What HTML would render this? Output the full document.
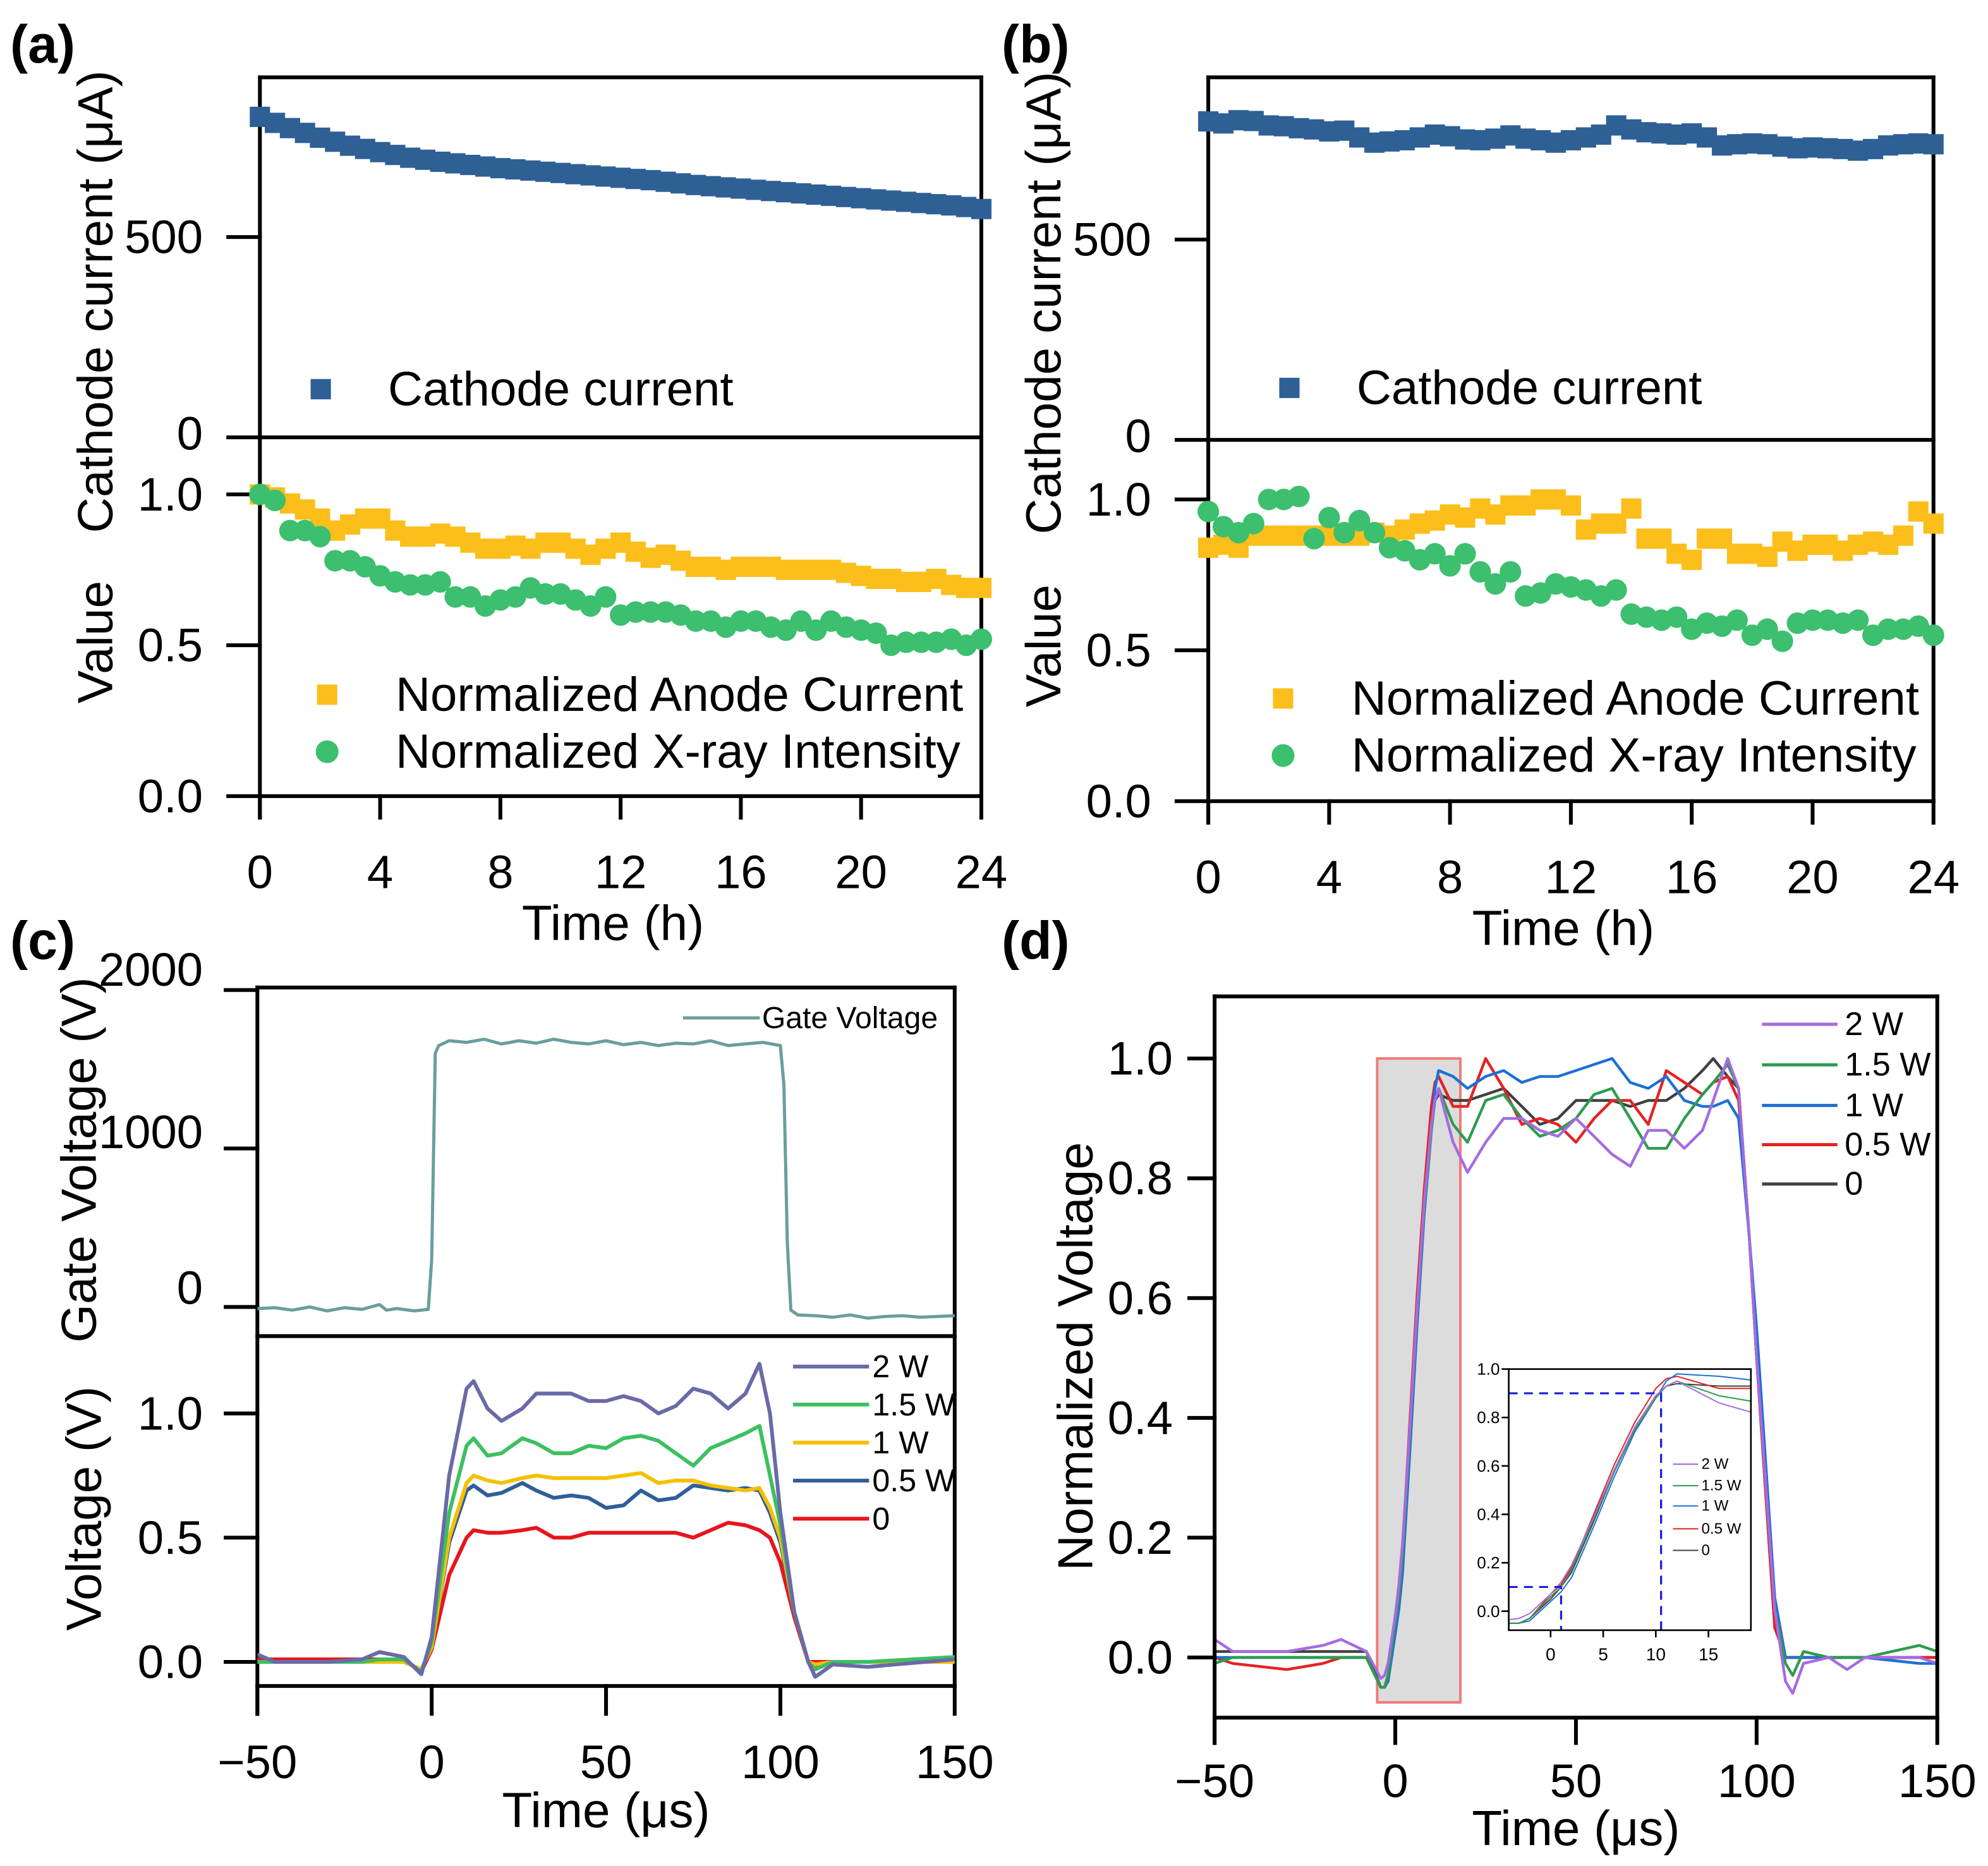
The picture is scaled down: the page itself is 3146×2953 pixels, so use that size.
<!DOCTYPE html>
<html><head><meta charset="utf-8"><style>
html,body{margin:0;padding:0;background:#fff;}
svg{display:block;font-family:"Liberation Sans",Arial,sans-serif;}
</style></head><body>
<svg id="fig" xmlns="http://www.w3.org/2000/svg" width="3146" height="2953" viewBox="0 0 1568 1472" preserveAspectRatio="none"></svg>
<script>
// ---------- Panel (a) data ----------
const aStepH = 0.5;
const aCathode = [800,785,772,760,748,738,728,720,712,705,698,693,688,684,680,676,672,669,666,663,660,657,654,651,648,645,642,638,634,630,627,624,621,618,615,612,609,606,603,600,597,594,591,588,585,582,579,575,570];
const aAnode = [1.0,0.99,0.97,0.95,0.92,0.88,0.9,0.92,0.92,0.88,0.86,0.86,0.87,0.86,0.84,0.82,0.82,0.83,0.82,0.84,0.84,0.82,0.80,0.82,0.84,0.81,0.79,0.80,0.78,0.76,0.76,0.75,0.76,0.76,0.76,0.75,0.75,0.75,0.75,0.74,0.73,0.72,0.72,0.71,0.71,0.72,0.70,0.69,0.69];
const aXray = [1.0,0.98,0.88,0.88,0.86,0.78,0.78,0.76,0.73,0.71,0.70,0.70,0.71,0.66,0.66,0.63,0.65,0.66,0.69,0.67,0.67,0.65,0.63,0.66,0.60,0.61,0.61,0.61,0.60,0.58,0.58,0.56,0.58,0.58,0.56,0.55,0.58,0.55,0.58,0.56,0.55,0.54,0.50,0.51,0.51,0.51,0.52,0.50,0.52];
// ---------- Panel (b) data ----------
const bStepH = 0.5;
const bCathode = [795,790,798,796,785,783,778,775,770,772,755,742,745,748,755,762,758,750,748,752,760,752,748,742,748,755,762,785,775,768,765,762,765,755,735,738,740,738,732,728,730,728,726,722,726,735,738,740,738];
const bAnode = [0.84,0.85,0.84,0.88,0.88,0.88,0.88,0.88,0.88,0.88,0.88,0.89,0.88,0.9,0.92,0.93,0.95,0.94,0.97,0.95,0.98,0.98,1.0,1.0,0.98,0.9,0.92,0.92,0.97,0.87,0.87,0.82,0.8,0.87,0.87,0.82,0.82,0.81,0.86,0.83,0.85,0.85,0.83,0.85,0.86,0.85,0.88,0.96,0.92];
const bXray = [0.96,0.91,0.89,0.92,1.0,1.0,1.01,0.87,0.94,0.89,0.93,0.89,0.84,0.83,0.80,0.82,0.78,0.82,0.76,0.72,0.76,0.68,0.69,0.72,0.71,0.70,0.68,0.70,0.62,0.61,0.60,0.61,0.57,0.59,0.58,0.60,0.55,0.57,0.53,0.59,0.60,0.60,0.59,0.60,0.55,0.57,0.57,0.58,0.55];
const hTicks = [0,4,8,12,16,20,24];
// ---------- Panel (c) data ----------
const gateT = [-50,-45,-40,-35,-30,-25,-20,-15,-13,-10,-5,-1,0,1,2,5,10,15,20,25,30,35,40,45,50,55,60,65,70,75,80,85,90,95,100,101,102,103,105,110,115,120,125,130,135,140,145,150];
const gateV = [-10,-5,-20,0,-25,-5,-15,15,-20,-10,-25,-15,300,1600,1650,1680,1670,1690,1660,1680,1665,1690,1670,1660,1680,1655,1670,1650,1665,1660,1680,1650,1660,1670,1650,1400,400,-20,-50,-55,-65,-50,-70,-60,-55,-65,-60,-55];
const cT = [-50,-45,-30,-20,-15,-8,-3,0,5,10,12,16,20,26,30,35,40,45,50,55,60,65,70,75,80,85,90,94,97,100,104,108,110,115,125,150];
const c2W  = [0.03,0.0,0.0,0.01,0.04,0.02,-0.05,0.10,0.75,1.10,1.13,1.02,0.97,1.02,1.08,1.08,1.08,1.05,1.05,1.07,1.05,1.0,1.03,1.1,1.08,1.02,1.08,1.2,1.0,0.6,0.2,0.0,-0.06,-0.01,-0.02,0.01];
const c15W = [0.0,0.0,0.0,0.0,0.01,0.01,-0.04,0.08,0.6,0.87,0.9,0.83,0.84,0.9,0.88,0.84,0.84,0.87,0.86,0.9,0.91,0.89,0.84,0.79,0.86,0.89,0.92,0.95,0.75,0.55,0.2,0.0,-0.03,0.0,0.0,0.02];
const c1W  = [0.0,0.0,0.0,0.0,0.0,0.0,-0.03,0.06,0.5,0.72,0.75,0.73,0.72,0.74,0.75,0.74,0.74,0.74,0.74,0.75,0.76,0.72,0.73,0.73,0.71,0.7,0.69,0.7,0.62,0.5,0.2,0.0,-0.01,0.0,0.0,0.0];
const c05W = [0.0,0.0,0.0,0.0,0.0,0.0,-0.03,0.06,0.48,0.69,0.71,0.67,0.68,0.72,0.69,0.66,0.67,0.66,0.62,0.63,0.69,0.65,0.66,0.71,0.70,0.69,0.70,0.69,0.6,0.48,0.2,0.0,-0.02,0.0,0.0,0.0];
const c0W  = [0.01,0.01,0.01,0.01,0.01,0.01,-0.04,0.05,0.35,0.50,0.53,0.52,0.52,0.53,0.54,0.50,0.50,0.52,0.52,0.52,0.52,0.52,0.52,0.50,0.53,0.56,0.55,0.53,0.5,0.4,0.18,0.0,0.0,0.0,0.0,0.0];
const cLabels = ['2 W','1.5 W','1 W','0.5 W','0'];
// ---------- Panel (d) data ----------
const dT = [-50,-45,-30,-20,-15,-8,-4,-3,-2,0,1,2,4,6,8,10,11,12,16,20,25,30,35,40,45,50,55,60,65,70,75,80,85,88,92,95,98,100,105,108,110,113,120,125,130,145,150];
const d2W  = [0.03,0.01,0.01,0.02,0.03,0.01,-0.035,-0.03,-0.01,0.07,0.12,0.19,0.38,0.58,0.76,0.89,0.93,0.95,0.86,0.81,0.86,0.9,0.9,0.88,0.87,0.9,0.87,0.84,0.82,0.88,0.88,0.85,0.88,0.93,1.0,0.95,0.7,0.5,0.08,-0.04,-0.06,-0.01,0.0,-0.02,0.0,0.0,-0.01];
const d15W = [-0.01,0.0,0.0,0.0,0.0,0.0,-0.05,-0.05,-0.03,0.06,0.1,0.17,0.37,0.57,0.75,0.88,0.93,0.95,0.89,0.86,0.93,0.94,0.9,0.87,0.88,0.9,0.94,0.95,0.9,0.85,0.85,0.9,0.94,0.96,0.99,0.95,0.7,0.5,0.08,-0.01,-0.03,0.01,0.0,0.0,0.0,0.02,0.01];
const d1W  = [0.0,0.0,0.0,0.0,0.0,0.0,-0.05,-0.05,-0.04,0.04,0.08,0.14,0.34,0.55,0.74,0.88,0.95,0.98,0.97,0.95,0.97,0.98,0.96,0.97,0.97,0.98,0.99,1.0,0.96,0.95,0.97,0.93,0.92,0.92,0.93,0.9,0.7,0.55,0.1,0.0,0.0,0.0,0.0,0.0,0.0,-0.01,-0.01];
const d05W = [0.0,-0.01,-0.02,-0.01,0.0,0.0,-0.05,-0.05,-0.03,0.07,0.11,0.18,0.39,0.6,0.78,0.92,0.96,0.97,0.92,0.92,1.0,0.95,0.89,0.9,0.89,0.86,0.9,0.93,0.93,0.89,0.98,0.96,0.94,0.96,0.97,0.93,0.7,0.5,0.05,0.0,0.0,0.0,0.0,0.0,0.0,0.0,0.0];
const d0W  = [0.01,0.01,0.01,0.01,0.01,0.01,-0.05,-0.05,-0.03,0.05,0.1,0.16,0.36,0.57,0.76,0.89,0.93,0.94,0.93,0.93,0.94,0.95,0.92,0.89,0.9,0.93,0.93,0.93,0.92,0.93,0.93,0.95,0.98,1.0,0.97,0.95,0.7,0.5,0.05,0.0,0.0,0.0,0.0,0.0,0.0,0.0,0.0];
const dLabels = ['2 W','1.5 W','1 W','0.5 W','0'];
const usTicks = [-50,0,50,100,150];
const insetXTicks = [0,5,10,15];
const insetYTicks = [0.0,0.2,0.4,0.6,0.8,1.0];

const NS = 'http://www.w3.org/2000/svg';
const svg = document.getElementById('fig');
function mk(tag, a, p){ const e=document.createElementNS(NS,tag); for(const k in a) e.setAttribute(k,a[k]); (p||svg).appendChild(e); return e; }
function txt(s, x, y, size, anchor, p, rot){
  const t = mk('text', {x:x, y:y, 'font-size':size, 'text-anchor':anchor||'middle', 'dominant-baseline':'central', fill:'#000'}, p);
  if(rot) t.setAttribute('transform','rotate(-90 '+x+' '+y+')');
  t.textContent = s; return t;
}
function line(x1,y1,x2,y2,p,w,c){ return mk('line',{x1:x1,y1:y1,x2:x2,y2:y2,stroke:c||'#000','stroke-width':w||3,'stroke-linecap':'square'},p); }

const TK = 37, TT = 39, LG = 38;

// Panel labels
const plA = txt('(a)', 8, 35, 42, 'start'); plA.setAttribute('font-weight','bold');


const plB = txt('(b)', 790, 35, 42, 'start'); plB.setAttribute('font-weight','bold');


const plC = txt('(c)', 8, 742, 42, 'start'); plC.setAttribute('font-weight','bold');


const plD = txt('(d)', 790, 742, 42, 'start'); plD.setAttribute('font-weight','bold');



// ---------- scatter panels (a) and (b) ----------
function scatterPanel(id, L, R, T, D, B, tick500, tick1, cath, anode, xray, step, leg){
  const g = mk('g', {});
  
  
  const xs = t => L + t*(R-L)/24;
  const yc = v => D - v*(D-tick500)/500;
  const yv = v => B - v*(B-tick1);
  line(L,T,R,T,g); line(R,T,R,B,g); line(L,T,L,B+17,g); line(L-25,D,R,D,g); line(L-25,B,R,B,g);
  line(L-25,yc(500),L,yc(500),g); line(L-25,yv(1),L,yv(1),g); line(L-25,yv(0.5),L,yv(0.5),g);
  txt('500', L-45, yc(500), TK, 'end', g); txt('0', L-45, D-3, TK, 'end', g);
  txt('1.0', L-45, yv(1), TK, 'end', g); txt('0.5', L-45, yv(0.5), TK, 'end', g); txt('0.0', L-45, yv(0), TK, 'end', g);
  hTicks.forEach(h => { line(xs(h),B,xs(h),B+17,g); txt(String(h), xs(h), B+60, TK, 'middle', g); });
  const xt = txt('Time (h)', (L+R)/2-6, B+100, TT, 'middle', g);
  
  
  const yt1 = txt('Cathode current (μA)', L-130, (T+D+70)/2, TT, 'middle', g, true);
  
  
  const yt2 = txt('Value', L-130, (D+B)/2+20, TT, 'middle', g, true);
  
  
  cath.forEach((v,i) => { const r = mk('rect',{x:xs(i*step)-8,y:yc(v)-8,width:16,height:16,fill:'#2e6096'},g);
    
     });
  anode.forEach((v,i) => { const r = mk('rect',{x:xs(i*step)-8,y:yv(v)-8,width:16,height:16,fill:'#fbbe1a'},g);
    
     });
  xray.forEach((v,i) => { const c = mk('circle',{cx:xs(i*step),cy:yv(v),r:8.5,fill:'#3cbf6e'},g);
    
     });
  const l1 = mk('g',{},g);
  
  
  mk('rect',{x:leg[0]-8,y:leg[1]-8,width:16,height:16,fill:'#2e6096'},l1); txt('Cathode current', leg[0]+53, leg[1], LG, 'start', l1);
  const l2 = mk('g',{},g);
  
  
  mk('rect',{x:leg[2]-8,y:leg[3]-8,width:16,height:16,fill:'#fbbe1a'},l2); txt('Normalized Anode Current', leg[2]+54, leg[3], LG, 'start', l2);
  const l3 = mk('g',{},g);
  
  
  mk('circle',{cx:leg[2],cy:leg[3]+45,r:9,fill:'#3cbf6e'},l3); txt('Normalized X-ray Intensity', leg[2]+54, leg[3]+45, LG, 'start', l3);
}
scatterPanel('a', 205, 774, 61, 345, 628, 187, 390, aCathode, aAnode, aXray, aStepH, [253,307,258,548]);
scatterPanel('b', 953, 1525, 61, 347, 632, 189, 394, bCathode, bAnode, bXray, bStepH, [1017,306,1012,551]);

function poly(ts, vs, fx, fy, color, w, p, clip){
  const pts = ts.map((t,i) => fx(t).toFixed(1)+','+fy(vs[i]).toFixed(1)).join(' ');
  const e = mk('polyline',{points:pts,fill:'none',stroke:color,'stroke-width':w,'stroke-linejoin':'round'},p);
  if(clip) e.setAttribute('clip-path','url(#'+clip+')');
  return e;
}
const defs = mk('defs',{});

// ---------- Panel (c) ----------
(function(){
  const L=203,R=753,T=779,D=1054,B=1330;
  const g = mk('g',{});
  
  
  const xs = t => L + (t+50)*(R-L)/200;
  const yg = v => 1031 - v*0.125;
  const yl = v => 1311 - v*196;
  const cp = mk('clipPath',{id:'clipC'},defs); mk('rect',{x:L,y:T,width:R-L,height:B-T},cp);
  line(L,T,R,T,g); line(R,T,R,B,g); line(L,T,L,B+22,g); line(L,D,R,D,g); line(L,B,R,B,g);
  [0,1000,2000].forEach(v => line(L-25,yg(v),L,yg(v),g));
  txt('2000',160,765,TK,'end',g); txt('1000',160,893,TK,'end',g); txt('0',160,1016,TK,'end',g);
  [0,0.5,1.0].forEach(v => { line(L-25,yl(v),L,yl(v),g); txt(v.toFixed(1),160,yl(v),TK,'end',g); });
  usTicks.forEach(t => { line(xs(t),B,xs(t),B+22,g); txt(t<0?'\u2212'+(-t):String(t), xs(t), B+60, TK, 'middle', g); });
  const xt = txt('Time (μs)', 478, 1428, TT, 'middle', g);
  
  
  const y1 = txt('Gate Voltage (V)', 62, 915, TT, 'middle', g, true);
  
  
  const y2 = txt('Voltage (V)', 66, 1190, TT, 'middle', g, true);
  
  
  const gl = poly(gateT, gateV, xs, yg, '#6a9e9c', 2.5, g, 'clipC');
  
  
  const lg = mk('g',{},g);
  
  
  line(540,803,598,803,lg,2.5,'#6a9e9c'); txt('Gate Voltage',601,803,24,'start',lg);
  const series = [c2W,c15W,c1W,c05W,c0W];
  const colors = ['#6a6aa8','#3cc060','#f5c000','#2f5f9a','#e8151c'];
  [4,3,2,1,0].forEach(i => {
    const pl = poly(cT, series[i], xs, yl, colors[i], 3, g, 'clipC');
    
    
  });
  const ly = [1078,1108,1138,1168,1198];
  cLabels.forEach((s,i) => {
    const le = mk('g',{},g);
    
    
    line(627,ly[i],684,ly[i],le,3,colors[i]); txt(s,688,ly[i],25,'start',le);
  });
})();

// ---------- Panel (d) ----------
(function(){
  const L=958,R=1528,T=786,B=1355;
  const g = mk('g',{});
  
  
  const xs = t => L + (t+50)*(R-L)/200;
  const ys = v => 835 + (1-v)*472.5;
  const cp = mk('clipPath',{id:'clipD'},defs); mk('rect',{x:L,y:T,width:R-L,height:B-T},cp);
  const sh = mk('rect',{x:xs(-5),y:ys(1.0),width:xs(18)-xs(-5),height:ys(-0.075)-ys(1.0),fill:'#dcdcdc',stroke:'#f07a7a','stroke-width':2},g);
  
  
  const series = [d2W,d15W,d1W,d05W,d0W];
  const colors = ['#a56be0','#2e9b4f','#1f6fd6','#e52222','#404040'];
  [4,3,2,1,0].forEach(i => {
    const pl = poly(dT, series[i], xs, ys, colors[i], 2.2, g, 'clipD');
    
    
  });
  line(L,T,R,T,g); line(R,T,R,B,g); line(L,T,L,B+20,g); line(L,B,R,B,g);
  [0,0.2,0.4,0.6,0.8,1.0].forEach(v => { line(L-20,ys(v),L,ys(v),g); txt(v.toFixed(1),925,ys(v),TK,'end',g); });
  usTicks.forEach(t => { line(xs(t),B,xs(t),B+20,g); txt(t<0?'\u2212'+(-t):String(t), xs(t), 1405, TK, 'middle', g); });
  const xt = txt('Time (μs)', 1243, 1442, TT, 'middle', g);
  
  
  const yt = txt('Normalized Voltage', 848, 1070, TT, 'middle', g, true);
  
  
  const ly = [808,840,872,903,934];
  dLabels.forEach((s,i) => {
    const le = mk('g',{},g);
    
    
    line(1391,ly[i],1448,ly[i],le,2.5,colors[i]); txt(s,1455,ly[i],26,'start',le);
  });
  const IL=1190, IR=1381, IT=1080, IB=1286;
  const ig = mk('g',{},g);
  
  
  const ix = t => 1223 + t*(1347.5-1223)/15;
  const iy = v => 1271 - v*191;
  mk('rect',{x:IL,y:IT,width:IR-IL,height:IB-IT,fill:'#fff'},ig);
  const cpi = mk('clipPath',{id:'clipI'},defs); mk('rect',{x:IL,y:IT,width:IR-IL,height:IB-IT},cpi);
  [4,3,2,1,0].forEach(i => {
    const pl = poly(dT, series[i], ix, iy, colors[i], 1, ig, 'clipI');
    
    
  });
  const dash = {stroke:'#1a1ae6','stroke-width':1.6,'stroke-dasharray':'7,5',fill:'none'};
  mk('polyline',Object.assign({points:IL+','+iy(0.1)+' '+ix(1)+','+iy(0.1)+' '+ix(1)+','+IB},dash),ig);
  mk('polyline',Object.assign({points:IL+','+iy(0.9)+' '+ix(10.5)+','+iy(0.9)+' '+ix(10.5)+','+IB},dash),ig);
  mk('rect',{x:IL,y:IT,width:IR-IL,height:IB-IT,fill:'none',stroke:'#000','stroke-width':1.3},ig);
  insetYTicks.forEach(v => { line(IL-5,iy(v),IL,iy(v),ig,1.3); txt(v.toFixed(1),IL-7,iy(v),13,'end',ig); });
  insetXTicks.forEach(t => { line(ix(t),IB,ix(t),IB+5,ig,1.3); txt(String(t),ix(t),1305,14,'middle',ig); });
  const ily = [1155,1172,1188,1206,1223];
  dLabels.forEach((s,i) => {
    const le = mk('g',{},ig);
    
    
    line(1320,ily[i],1339,ily[i],le,1,colors[i]); txt(s,1342,ily[i],12,'start',le);
  });
})();
</script>
</body></html>
